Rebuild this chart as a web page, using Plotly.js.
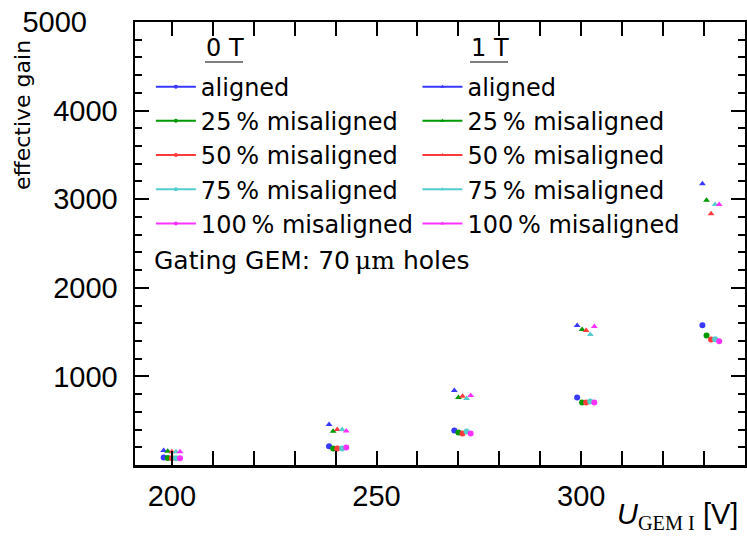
<!DOCTYPE html>
<html>
<head>
<meta charset="utf-8">
<script src="https://cdn.plot.ly/plotly-3.0.1.min.js"></script>
<style>html,body{margin:0;padding:0;background:#fff;}#chart{width:747px;height:536px;}</style>
</head>
<body>
<div id="chart"></div>
<script>
// Series labels and colours
const seriesNames = ["aligned", "25\u2009% misaligned", "50\u2009% misaligned", "75\u2009% misaligned", "100\u2009% misaligned"];
const seriesColors = ["#3838ff", "#009900", "#ff3b3b", "#55cccc", "#ff33ff"];

// U_GEM I voltages (V) per series (points slightly offset per series)
const voltAligned = [198.0, 238.4, 269.0, 299.0, 329.6];
const volt25 = [199.0, 239.4, 270.0, 300.2, 330.6];
const volt50 = [200.0, 240.4, 271.0, 301.2, 331.7];
const volt75 = [201.0, 241.6, 272.0, 302.2, 332.7];
const volt100 = [202.0, 242.6, 273.0, 303.2, 333.7];

// effective gain, 0 T
const gain0TAligned = [85, 212, 389, 762, 1578];
const gain0T25 = [80, 186, 367, 705, 1462];
const gain0T50 = [75, 186, 355, 705, 1417];
const gain0T75 = [75, 186, 378, 717, 1420];
const gain0T100 = [75, 197, 355, 705, 1398];

// effective gain, 1 T
const gain1TAligned = [165, 457, 841, 1574, 3174];
const gain1T25 = [155, 381, 762, 1530, 2989];
const gain1T50 = [150, 400, 776, 1517, 2835];
const gain1T75 = [150, 400, 750, 1473, 2940];
const gain1T100 = [150, 384, 784, 1563, 2940];

const xTickVals = [200, 250, 300];
const xTickText = ["200", "250", "300"];
const yTickVals = [1000, 2000, 3000, 4000, 5000];
const yTickText = ["1000", "2000", "3000", "4000", ""];
const yTopTickVals = [5000];
const yTopTickText = ["5000"];

const volts = [voltAligned, volt25, volt50, volt75, volt100];
const g0 = [gain0TAligned, gain0T25, gain0T50, gain0T75, gain0T100];
const g1 = [gain1TAligned, gain1T25, gain1T50, gain1T75, gain1T100];

const traces = [];
for (let i = 0; i < 5; i++) {
  traces.push({x: volts[i], y: g0[i], type: 'scatter', mode: 'markers', showlegend: false,
    marker: {symbol: 'circle', size: 6, color: seriesColors[i]}, hoverinfo: 'skip'});
  traces.push({x: volts[i], y: g1[i], type: 'scatter', mode: 'markers', showlegend: false,
    marker: {symbol: 'triangle-up', size: 6, color: seriesColors[i]}, hoverinfo: 'skip'});
}
for (let i = 0; i < 5; i++) {
  traces.push({x: [null], y: [null], type: 'scatter', mode: 'lines+markers', name: seriesNames[i],
    legend: 'legend', line: {color: seriesColors[i], width: 2}, marker: {symbol: 'circle', size: 4, color: seriesColors[i]}});
}
for (let i = 0; i < 5; i++) {
  traces.push({x: [null], y: [null], type: 'scatter', mode: 'lines+markers', name: seriesNames[i],
    legend: 'legend2', line: {color: seriesColors[i], width: 2}, marker: {symbol: 'triangle-up', size: 4, color: seriesColors[i]}});
}
// carrier trace for the overlay axis that holds the top tick label
traces.push({x: [null], y: [null], type: 'scatter', mode: 'markers', yaxis: 'y2', showlegend: false, hoverinfo: 'skip'});

const legendFont = {family: 'DejaVu Sans', size: 24, color: '#000'};
const tickFont = {family: 'Liberation Sans', size: 29, color: '#000'};
const layout = {
  width: 747, height: 536,
  margin: {l: 135, r: 2, t: 22, b: 71, pad: 0},
  paper_bgcolor: '#fff', plot_bgcolor: '#fff',
  font: {family: 'Liberation Sans', color: '#000'},
  xaxis: {
    range: [191, 340], tickvals: xTickVals, ticktext: xTickText, ticks: 'inside', ticklen: 14, tickwidth: 2, tickcolor: '#000',
    showline: true, linewidth: 2.5, linecolor: '#000', mirror: 'allticks', showgrid: false, zeroline: false,
    ticklabelstandoff: 4, tickfont: tickFont,
    minor: {dtick: 10, tick0: 200, ticks: 'inside', ticklen: 7, tickwidth: 2, tickcolor: '#000', showgrid: false}
  },
  yaxis: {
    range: [0, 5000], tickvals: yTickVals, ticktext: yTickText, ticks: 'inside', ticklen: 14, tickwidth: 2, tickcolor: '#000',
    showline: true, linewidth: 2.5, linecolor: '#000', mirror: 'allticks', showgrid: false, zeroline: false,
    ticklabelstandoff: 9, tickfont: tickFont,
    minor: {dtick: 200, tick0: 0, ticks: 'inside', ticklen: 7, tickwidth: 2, tickcolor: '#000', showgrid: false}
  },
  yaxis2: {
    range: [0, 5000], overlaying: 'y', side: 'left', tickvals: yTopTickVals, ticktext: yTopTickText, ticks: '',
    showline: false, showgrid: false, zeroline: false, ticklabelstandoff: 47, tickfont: tickFont
  },
  legend: {x: 0.026, y: 0.904, xanchor: 'left', yanchor: 'top', bgcolor: 'rgba(0,0,0,0)', borderwidth: 0,
    font: legendFont, itemwidth: 40, tracegroupgap: 0},
  legend2: {x: 0.463, y: 0.904, xanchor: 'left', yanchor: 'top', bgcolor: 'rgba(0,0,0,0)', borderwidth: 0,
    font: legendFont, itemwidth: 40, tracegroupgap: 0},
  shapes: [
    {type: 'line', xref: 'paper', yref: 'paper', x0: (205-135)/610, x1: (243-135)/610, y0: (465-62)/443, y1: (465-62)/443, line: {color: '#555', width: 1.5}},
    {type: 'line', xref: 'paper', yref: 'paper', x0: (470-135)/610, x1: (508-135)/610, y0: (465-62)/443, y1: (465-62)/443, line: {color: '#555', width: 1.5}}
  ],
  annotations: [
    {text: '0 T', xref: 'paper', yref: 'paper', x: (204-135)/610, y: (465-48)/443, xanchor: 'left', yanchor: 'middle', showarrow: false, font: legendFont},
    {text: '1 T', xref: 'paper', yref: 'paper', x: (469-135)/610, y: (465-48)/443, xanchor: 'left', yanchor: 'middle', showarrow: false, font: legendFont},
    {text: 'Gating GEM: 70\u2009<span style="font-family:DejaVu Serif">\u03bcm</span> holes', xref: 'paper', yref: 'paper', x: (152-135)/610, y: (465-260)/443, xanchor: 'left', yanchor: 'middle', showarrow: false, font: {family: 'DejaVu Sans', size: 25, color: '#000'}},
    {text: 'effective gain', textangle: -90, xref: 'paper', yref: 'paper', x: (22-135)/610, y: (465-38)/443, xanchor: 'center', yanchor: 'top', showarrow: false, font: {family: 'DejaVu Sans', size: 22, color: '#000'}},
    {text: '<i>U</i><sub><span style="font-family:Liberation Serif">GEM I</span></sub> [V]', xref: 'paper', yref: 'paper', x: (740-135)/610, y: (465-516)/443, xanchor: 'right', yanchor: 'middle', showarrow: false, font: {family: 'Liberation Sans', size: 29, color: '#000'}}
  ]
};

Plotly.newPlot('chart', traces, layout, {displayModeBar: false, staticPlot: true});
</script>
</body>
</html>
